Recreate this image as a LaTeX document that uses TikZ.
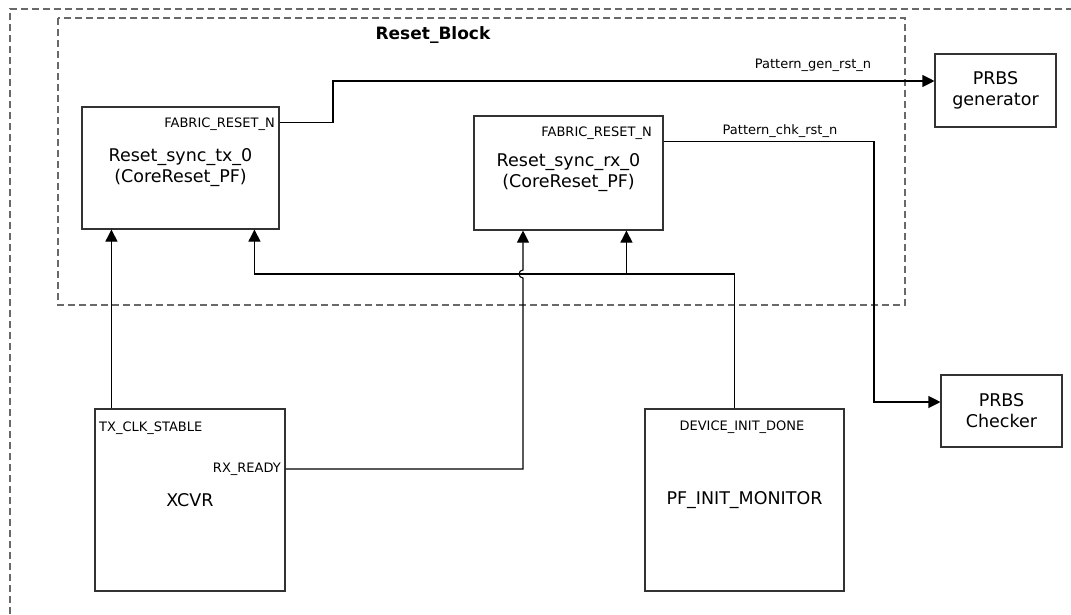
\documentclass[tikz,border=0pt]{standalone}
\usepackage{fontspec}
\setmainfont{DejaVu Sans}
\usetikzlibrary{arrows.meta}

\definecolor{boxline}{RGB}{50,50,50}
\definecolor{dashline}{RGB}{105,105,105}

\begin{document}
\begin{tikzpicture}[
  x=1pt, y=-1pt,
  block/.style={rectangle, draw=boxline, line width=1.1pt, inner sep=0pt, align=center,
    font=\fontsize{17.5}{21}\selectfont},
  port/.style={inner sep=0pt, font=\fontsize{13}{15}\selectfont},
  wire/.style={line width=1.1pt, black},
  frame/.style={draw=dashline, line width=1.1pt, dash pattern=on 7pt off 4pt},
  >={Triangle[length=12pt, width=12pt]}
]
\useasboundingbox (0,0) rectangle (1071,614);

\draw[frame] (10,614) -- (10,9) -- (1071,9);
\draw[frame] (58,18) rectangle (905,305);
\node[port, font=\fontsize{17}{20}\selectfont\bfseries] (blk) at (433,35) {Reset\_Block};

\node[block, minimum width=197pt, minimum height=122pt] (tx) at (180.5,168) {Reset\_sync\_tx\_0\\(CoreReset\_PF)};
\node[block, minimum width=189pt, minimum height=114pt] (rx) at (568.5,173) {Reset\_sync\_rx\_0\\(CoreReset\_PF)};
\node[block, minimum width=121pt, minimum height=73pt] (gen) at (995.5,90.5) {PRBS\\generator};
\node[block, minimum width=121pt, minimum height=72pt] (chk) at (1001.5,411) {PRBS\\Checker};
\node[block, minimum width=190pt, minimum height=182pt] (xcvr) at (190,500) {XCVR};
\node[block, minimum width=199pt, minimum height=182pt] (mon) at (744.5,500) {PF\_INIT\_MONITOR};

\node[port, anchor=east] (txrst) at (275,124) {FABRIC\_RESET\_N};
\node[port, anchor=east] (rxrst) at (652,133) {FABRIC\_RESET\_N};
\node[port, anchor=west] (txclk) at (99,428) {TX\_CLK\_STABLE};
\node[port, anchor=east] (rxrdy) at (281,469) {RX\_READY};
\node[port] (devdone) at (742,427) {DEVICE\_INIT\_DONE};
\node[port] (genlbl) at (813,65) {Pattern\_gen\_rst\_n};
\node[port] (chklbl) at (780,131) {Pattern\_chk\_rst\_n};

\coordinate (genturn) at (333,81);
\coordinate (chkturn) at (874,402);
\coordinate (hop) at (523,274);
\path (tx.north east) ++(0,16) coordinate (txout);
\path (rx.north east) ++(0,26) coordinate (rxout);

\draw[wire, ->] (txout) -| (genturn) -- (genturn -| gen.west);
\draw[wire, ->] (rxout) -| (chkturn) -- (chkturn -| chk.west);
\draw[wire, ->] ([xshift=17pt]xcvr.north west) -- ([xshift=30pt]tx.south west);
\draw[wire, ->] (xcvr.east |- rxrdy) -| ([yshift=-4pt]hop) arc[start angle=270, end angle=90, radius=4pt] -- (hop |- rx.south);
\draw[wire, ->] ([xshift=90pt]mon.north west) |- ([xshift=173pt]tx.south west |- hop) -- ([xshift=173pt]tx.south west);
\draw[wire, ->] ([xshift=153pt]rx.south west |- hop) -- ([xshift=153pt]rx.south west);
\end{tikzpicture}
\end{document}
